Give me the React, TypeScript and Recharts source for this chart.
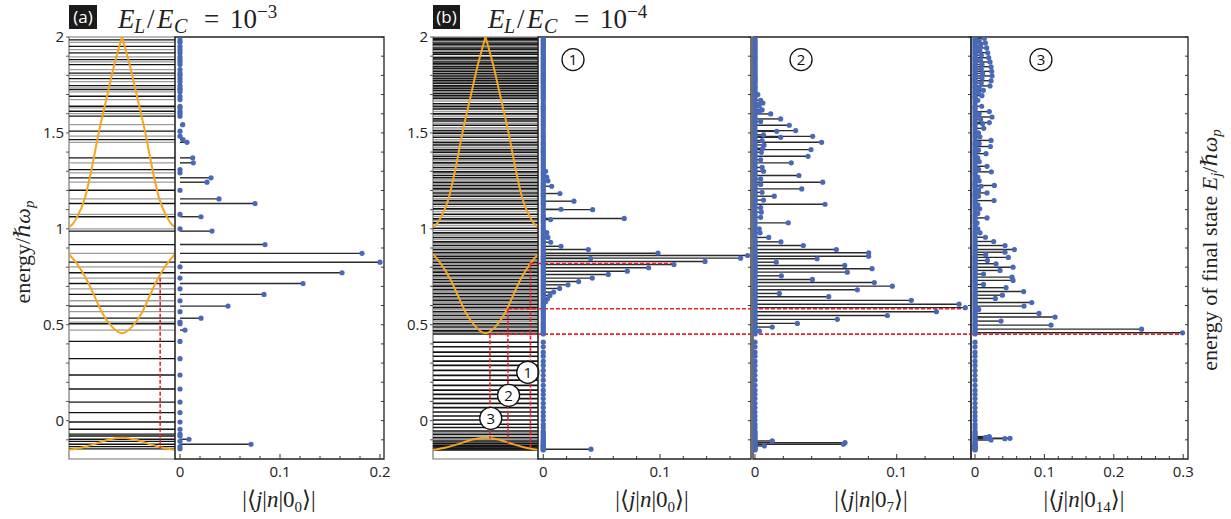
import React from 'react';
import {
  ComposedChart,
  Scatter,
  Line,
  XAxis,
  YAxis,
  ReferenceLine,
  ReferenceArea,
  ReferenceDot,
} from 'recharts';

// ---------------- data ----------------
const energyTicks = [-0.1, 0, 0.1, 0.2, 0.3, 0.4, 0.5, 0.6, 0.7, 0.8, 0.9, 1, 1.1, 1.2, 1.3, 1.4, 1.5, 1.6, 1.7, 1.8, 1.9, 2];
const energyLabels = ['0', '0.5', '1', '1.5', '2'];

// panel (a): energy levels
const levelsABlack = [1.985, 1.951, 1.917, 1.882, 1.856, 1.812, 1.783, 1.747, 1.726, 1.691, 1.639, 1.613, 1.587, 1.509, 1.465, 1.370, 1.309, 1.266, 1.201, 1.132, 1.063, 0.988, 0.918, 0.826, 0.771, 0.715, 0.658, 0.597, 0.534, 0.505,
  0.413, 0.323, 0.238, 0.165, 0.097, 0.042, -0.007, -0.045, -0.070, -0.080, -0.097, -0.108, -0.123, -0.135, -0.147];
const levelsAGray = [1.972, 1.934, 1.896, 1.870, 1.830, 1.800, 1.767, 1.734, 1.714, 1.674, 1.630, 1.601, 1.543, 1.483, 1.451, 1.344, 1.292, 1.243, 1.156, 1.075, 1.000, 0.872, 0.802, 0.743, 0.687, 0.625, 0.568, 0.514, 0.472];
const stemAEnergy = [1.543, 1.465, 1.451, 1.370, 1.344, 1.266, 1.243, 1.156, 1.132, 1.063, 0.988, 0.918, 0.872, 0.826, 0.771, 0.715, 0.658, 0.597, 0.534, 0.472, -0.097, -0.123];
const stemAAmp = [0.0027, 0.003, 0.007, 0.0127, 0.0133, 0.031, 0.027, 0.039, 0.075, 0.021, 0.032, 0.085, 0.182, 0.200, 0.162, 0.123, 0.084, 0.048, 0.021, 0.005, 0.009, 0.071];
const ampTicksA = [0, 0.02, 0.04, 0.06, 0.08, 0.1, 0.12, 0.14, 0.16, 0.18, 0.2];
const ampLabelsA = ['0', '0.1', '0.2'];

// panel (b): energy levels
const levelsBBlack = [0.452, 0.468, 0.488, 0.505, 0.527, 0.548, 0.568, 0.589, 0.607, 0.627, 0.646, 0.663, 0.682, 0.701, 0.720, 0.736, 0.755, 0.774, 0.792, 0.809, 0.826, 0.844, 0.857, 0.875, 0.892, 0.913, 0.932, 0.955, 0.979, 1.003, 1.031, 1.052, 1.076, 1.104, 1.128, 1.147, 1.170, 1.187, 1.208, 1.226, 1.243, 1.266, 1.278, 1.297, 1.320, 1.344, 1.366, 1.378, 1.399, 1.413, 1.437, 1.451, 1.477, 1.499, 1.512, 1.540, 1.562, 1.573, 1.599, 1.625, 1.639, 1.652, 1.680, 1.694, 1.705, 1.722, 1.733, 1.745, 1.758, 1.772, 1.784, 1.797, 1.810, 1.821, 1.836, 1.845, 1.860, 1.870, 1.885, 1.892, 1.910, 1.918, 1.935, 1.943, 1.960, 1.969, 1.985, 1.993,
  0.409, 0.385, 0.357, 0.336, 0.310, 0.288, 0.262, 0.236, 0.211, 0.184, 0.159, 0.137, 0.115, 0.090, 0.068, 0.045, 0.024, 0.003, -0.019, -0.036, -0.054, -0.071, -0.089, -0.106, -0.118, -0.129, -0.137, -0.146, -0.153];
const levelsBGray = [0.460, 0.478, 0.497, 0.516, 0.537, 0.558, 0.578, 0.598, 0.617, 0.636, 0.655, 0.672, 0.691, 0.710, 0.728, 0.746, 0.764, 0.783, 0.800, 0.818, 0.835, 0.851, 0.866, 0.884, 0.902, 0.922, 0.944, 0.967, 0.991, 1.017, 1.042, 1.064, 1.090, 1.116, 1.138, 1.158, 1.178, 1.197, 1.217, 1.235, 1.255, 1.288, 1.309, 1.332, 1.355, 1.389, 1.406, 1.425, 1.444, 1.464, 1.488, 1.526, 1.550, 1.586, 1.612, 1.632, 1.666, 1.687, 1.713, 1.740, 1.765, 1.778, 1.791, 1.804, 1.828, 1.853, 1.877, 1.898, 1.926, 1.952, 1.977,
  -0.062, -0.080, -0.098, -0.112, -0.124, -0.133, -0.141, -0.150];

// stems |<j|n|0_0>| (b1)
const stemB1Energy = [1.300, 1.270, 1.250, 1.222, 1.184, 1.144, 1.102, 1.100, 1.054, 1.048, 0.980, 0.955, 0.930, 0.909, 0.892, 0.873, 0.861, 0.847, 0.845, 0.830, 0.814, 0.797, 0.779, 0.762, 0.743, 0.725, 0.708, 0.689, 0.670, 0.653, 0.635, 0.620, -0.149];
const stemB1Amp = [0.002, 0.003, 0.004, 0.0072, 0.0143, 0.0263, 0.0152, 0.0423, 0.0694, 0.0063, 0.003, 0.004, 0.0063, 0.0152, 0.0386, 0.0983, 0.1751, 0.1691, 0.0406, 0.1386, 0.112, 0.0903, 0.072, 0.0557, 0.042, 0.0303, 0.0212, 0.014, 0.0089, 0.0057, 0.0037, 0.002, 0.0409];
const ampTicksB1 = [0, 0.02, 0.04, 0.06, 0.08, 0.1, 0.12, 0.14, 0.16];

// stems |<j|n|0_7>| (b2)
const stemB2Energy = [1.700, 1.670, 1.656, 1.640, 1.620, 1.610, 1.599, 1.573, 1.560, 1.540, 1.512, 1.508, 1.490, 1.482, 1.477, 1.460, 1.451, 1.437, 1.420, 1.413, 1.399, 1.378, 1.360, 1.344, 1.320, 1.300, 1.278, 1.260, 1.243, 1.231, 1.208, 1.190, 1.170, 1.150, 1.128, 1.110, 1.087, 1.060, 1.031, 1.000, 0.979, 0.955, 0.932, 0.913, 0.892, 0.875, 0.857, 0.844, 0.826, 0.809, 0.792, 0.774, 0.755, 0.736, 0.720, 0.701, 0.682, 0.663, 0.646, 0.627, 0.607, 0.589, 0.568, 0.548, 0.528, 0.507, 0.488, 0.467, -0.106, -0.115, -0.123, -0.132];
const stemB2Amp = [0.002, 0.004, 0.0056, 0.003, 0.005, 0.003, 0.0111, 0.0181, 0.004, 0.0242, 0.0287, 0.0153, 0.006, 0.0407, 0.0181, 0.005, 0.047, 0.0064, 0.0055, 0.0395, 0.0045, 0.0374, 0.004, 0.0256, 0.005, 0.006, 0.031, 0.004, 0.0478, 0.004, 0.033, 0.005, 0.0136, 0.006, 0.0494, 0.004, 0.0045, 0.004, 0.0235, 0.003, 0.0036, 0.0097, 0.0183, 0.0341, 0.0574, 0.0802, 0.0802, 0.0438, 0.015, 0.0633, 0.0826, 0.0651, 0.0186, 0.0405, 0.0842, 0.0969, 0.0722, 0.0172, 0.052, 0.1103, 0.144, 0.1484, 0.128, 0.0934, 0.0581, 0.0299, 0.0122, 0.0031, 0.0122, 0.0635, 0.0624, 0.0066];
const ampTicksB2 = [0, 0.02, 0.04, 0.06, 0.08, 0.1, 0.12, 0.14];

// stems |<j|n|0_14>| (b3)
const stemB3Energy = [1.993, 1.980, 1.969, 1.955, 1.943, 1.930, 1.918, 1.905, 1.892, 1.880, 1.870, 1.857, 1.845, 1.833, 1.821, 1.810, 1.797, 1.785, 1.772, 1.760, 1.745, 1.735, 1.722, 1.710, 1.694, 1.670, 1.639, 1.611, 1.600, 1.583, 1.570, 1.554, 1.548, 1.524, 1.500, 1.480, 1.461, 1.445, 1.429, 1.410, 1.392, 1.370, 1.350, 1.326, 1.310, 1.297, 1.270, 1.250, 1.226, 1.222, 1.200, 1.187, 1.170, 1.147, 1.125, 1.104, 1.080, 1.057, 1.030, 1.000, 0.979, 0.956, 0.934, 0.913, 0.892, 0.878, 0.865, 0.851, 0.835, 0.818, 0.800, 0.783, 0.764, 0.748, 0.731, 0.710, 0.693, 0.673, 0.654, 0.637, 0.616, 0.597, 0.580, 0.559, 0.540, 0.519, 0.498, 0.477, 0.458, -0.083, -0.088, -0.090, -0.092, -0.094, -0.101];
const stemB3Amp = [0.0134, 0.006, 0.0149, 0.008, 0.0168, 0.007, 0.0183, 0.009, 0.0197, 0.008, 0.0216, 0.010, 0.0231, 0.009, 0.024, 0.011, 0.0245, 0.010, 0.0231, 0.009, 0.0216, 0.006, 0.012, 0.005, 0.010, 0.004, 0.0096, 0.0206, 0.006, 0.0245, 0.008, 0.0206, 0.0109, 0.0125, 0.005, 0.007, 0.0231, 0.006, 0.0221, 0.005, 0.0158, 0.004, 0.006, 0.0173, 0.005, 0.0235, 0.004, 0.006, 0.0278, 0.0086, 0.005, 0.0173, 0.005, 0.0274, 0.004, 0.0067, 0.004, 0.0173, 0.003, 0.004, 0.0072, 0.0149, 0.0269, 0.0432, 0.0567, 0.0432, 0.0154, 0.048, 0.0178, 0.0303, 0.0548, 0.036, 0.0122, 0.0533, 0.0548, 0.0122, 0.0447, 0.0701, 0.0394, 0.0293, 0.0817, 0.0706, 0.0053, 0.0922, 0.1153, 0.0375, 0.1095, 0.240, 0.299, 0.0206, 0.015, 0.018, 0.0504, 0.043, 0.023];
const ampTicksB3 = [0, 0.02, 0.04, 0.06, 0.08, 0.1, 0.12, 0.14, 0.16, 0.18, 0.2, 0.22, 0.24, 0.26, 0.28, 0.3];
const ampLabelsB = ['0', '0.1', '0.2', '0.3'];

// energy bands vs quasi-momentum k
const topBandLeftK = [-1, -0.93, -0.84, -0.70, -0.56, -0.44, -0.30, -0.15, 0];
const topBandLeftE = [1.01, 1.025, 1.065, 1.16, 1.33, 1.5, 1.67, 1.85, 2.0];
const topBandRightK = [0, 0.15, 0.30, 0.44, 0.56, 0.70, 0.84, 0.93, 1];
const topBandRightE = [2.0, 1.85, 1.67, 1.5, 1.33, 1.16, 1.065, 1.025, 1.01];
const midBandK = [-1, -0.856, -0.675, -0.505, -0.38, -0.19, 0, 0.19, 0.38, 0.505, 0.675, 0.856, 1];
const midBandE = [0.868, 0.82, 0.74, 0.64, 0.565, 0.49, 0.455, 0.49, 0.565, 0.64, 0.74, 0.82, 0.868];
const lowBandK = [-1, -0.75, -0.49, -0.25, 0, 0.25, 0.49, 0.75, 1];
const lowBandE = [-0.152, -0.14, -0.12, -0.098, -0.089, -0.098, -0.12, -0.14, -0.152];

// transitions (red dashed guides)
const transA = { k: 0.72, top: 0.745, bottom: -0.146 };
const transBEnergy = [0.819, 0.583, 0.451];
const transBK = [0.856, 0.426, 0.085];
const transBBottom = [-0.141, -0.118, -0.094];
const transBEndPanel = [1, 2, 3];
const transBEndAmp = [0.111, 0.148, 0.299];
const markerBK = [0.805, 0.44, 0.10];
const markerBE = [0.252, 0.132, 0.012];
const markerLabels = ['1', '2', '3'];
const topMarkerAmp = [0.0255, 0.0325, 0.095];
const topMarkerE = 1.882;

// ---------------- styles ----------------
const BLUE = '#4868b8';
const STEM = '#2a2a2a';
const ORANGE = '#f5a51e';
const RED = '#e8232b';
const GRAY = '#9c9c9c';
const BLACK = '#141414';
const SANS = "'Open Sans', 'DejaVu Sans', sans-serif";
const SERIF = "'Liberation Serif', 'DejaVu Serif', serif";
const TOP = 37;
const BOTTOM = 459;
const Y_DOMAIN: [number, number] = [-0.2, 2];

const fmt = (v: number) => String(Math.round(v * 100) / 100);

const makeLeftTick = (labels: string[]) => (props: any) => {
  const { x, y, payload } = props;
  const s = fmt(payload.value);
  return (
    <g>
      <line x1={x} x2={x - 3} y1={y} y2={y} stroke="#555" strokeWidth={1} />
      {labels.includes(s) && (
        <text x={x - 5} y={y} dy="0.36em" textAnchor="end" fontFamily={SANS} fontSize={15} fill="#222">
          {s}
        </text>
      )}
    </g>
  );
};

const rightTick = (props: any) => {
  const { x, y } = props;
  return <line x1={x} x2={x - 3} y1={y} y2={y} stroke="#333" strokeWidth={1} />;
};

const makeBottomTick = (labels: string[]) => (props: any) => {
  const { x, y, payload } = props;
  const s = fmt(payload.value);
  const major = labels.includes(s);
  return (
    <g>
      <line x1={x} x2={x} y1={y} y2={y - (major ? 5 : 3)} stroke="#333" strokeWidth={1} />
      {major && (
        <text x={x} y={y + 13} dy="0.36em" textAnchor="middle" fontFamily={SANS} fontSize={15} fill="#222">
          {s}
        </text>
      )}
    </g>
  );
};

const dotShape = (props: any) => <circle cx={props.cx} cy={props.cy} r={2.6} fill={BLUE} />;

const circled = (label: string) => (props: any) => (
  <g>
    <circle cx={props.cx} cy={props.cy} r={11} fill="#fff" stroke="#111" strokeWidth={1.3} />
    <text x={props.cx} y={props.cy} dy="0.36em" textAnchor="middle" fontFamily={SANS} fontSize={15} fill="#111">
      {label}
    </text>
  </g>
);

const pairs = (ks: number[], es: number[]) => ks.map((k, i) => ({ k, e: es[i] }));

type BoxProps = {
  x0: number;
  x1: number;
  black: number[];
  gray: number[];
  lw: number;
  children?: React.ReactNode;
};

function LevelBox({ x0, x1, black, gray, lw, children }: BoxProps) {
  const padL = 50;
  const padR = 2;
  const padT = 10;
  const padB = 20;
  const W = x1 - x0 + padL + padR;
  const H = BOTTOM - TOP + padT + padB;
  return (
    <div style={{ position: 'absolute', left: x0 - padL, top: TOP - padT, width: W, height: H }}>
      <ComposedChart width={W} height={H} margin={{ top: padT, right: padR, bottom: padB, left: 0 }}>
        <XAxis type="number" dataKey="k" domain={[-1, 1]} hide allowDataOverflow />
        <YAxis
          type="number"
          dataKey="e"
          domain={Y_DOMAIN}
          ticks={energyTicks}
          interval={0}
          width={padL}
          tickSize={0}
          tickMargin={0}
          axisLine={false}
          tickLine={false}
          tick={makeLeftTick(energyLabels)}
          allowDataOverflow
        />
        {gray.map((e, i) => (
          <ReferenceLine key={'g' + i} y={e} stroke={GRAY} strokeWidth={lw} />
        ))}
        {black.map((e, i) => (
          <ReferenceLine key={'b' + i} y={e} stroke={BLACK} strokeWidth={lw} />
        ))}
        <ReferenceArea x1={-1} x2={1} y1={-0.2} y2={2} fill="none" stroke="#777" strokeWidth={1.2} />
        <Line data={pairs(topBandLeftK, topBandLeftE)} dataKey="e" type="monotone" dot={false} stroke={ORANGE} strokeWidth={2} isAnimationActive={false} />
        <Line data={pairs(topBandRightK, topBandRightE)} dataKey="e" type="monotone" dot={false} stroke={ORANGE} strokeWidth={2} isAnimationActive={false} />
        <Line data={pairs(midBandK, midBandE)} dataKey="e" type="monotone" dot={false} stroke={ORANGE} strokeWidth={2} isAnimationActive={false} />
        <Line data={pairs(lowBandK, lowBandE)} dataKey="e" type="monotone" dot={false} stroke={ORANGE} strokeWidth={2} isAnimationActive={false} />
        {children}
      </ComposedChart>
    </div>
  );
}

type StemProps = {
  x0: number;
  x1: number;
  domain: [number, number];
  zero: number[];
  stemE: number[];
  stemV: number[];
  ticks: number[];
  labels: string[];
  children?: React.ReactNode;
};

function StemPlot({ x0, x1, domain, zero, stemE, stemV, ticks, labels, children }: StemProps) {
  const padL = 2;
  const padR = 8;
  const padT = 10;
  const padB = 30;
  const W = x1 - x0 + padL + padR;
  const H = BOTTOM - TOP + padT + padB;
  const zeroPts = zero.map((e) => ({ v: 0, e }));
  const tipPts = stemE.map((e, i) => ({ v: stemV[i], e }));
  return (
    <div style={{ position: 'absolute', left: x0 - padL, top: TOP - padT, width: W, height: H }}>
      <ComposedChart width={W} height={H} margin={{ top: padT, right: padR - 5, bottom: 0, left: padL }}>
        <XAxis
          type="number"
          dataKey="v"
          domain={domain}
          ticks={ticks}
          interval={0}
          height={padB}
          tickSize={0}
          tickMargin={0}
          axisLine={false}
          tickLine={false}
          tick={makeBottomTick(labels)}
          allowDataOverflow
        />
        <YAxis
          type="number"
          dataKey="e"
          orientation="right"
          domain={Y_DOMAIN}
          ticks={energyTicks}
          interval={0}
          width={5}
          tickSize={0}
          tickMargin={0}
          axisLine={false}
          tickLine={false}
          tick={rightTick}
          allowDataOverflow
        />
        <ReferenceArea x1={domain[0]} x2={domain[1]} y1={-0.2} y2={2} fill="none" stroke="#222" strokeWidth={1.3} />
        {stemE.map((e, i) => (
          <ReferenceLine key={'s' + i} segment={[{ x: 0, y: e }, { x: stemV[i], y: e }]} stroke={STEM} strokeWidth={1.4} />
        ))}
        <Scatter data={zeroPts} shape={dotShape} isAnimationActive={false} />
        <Scatter data={tipPts} shape={dotShape} isAnimationActive={false} />
        {children}
      </ComposedChart>
    </div>
  );
}

const allA = [...levelsABlack, ...levelsAGray];
const zeroA = allA.filter((e) => !stemAEnergy.includes(e));
const allB = [...levelsBBlack, ...levelsBGray];

const Bracket = ({ x, sub }: { x: number; sub: string }) => (
  <text x={x} y={507} textAnchor="middle" fontFamily={SERIF} fontSize={23} fill="#222">
    |⟨<tspan fontStyle="italic">j</tspan>|<tspan fontStyle="italic">n</tspan>|0
    <tspan fontSize={15} dy={5}>{sub}</tspan>
    <tspan dy={-5}>⟩|</tspan>
  </text>
);

const Title = ({ x, exp }: { x: number; exp: string }) => (
  <text y={28} fontFamily={SERIF} fontSize={27} fill="#222">
    <tspan x={x} fontStyle="italic">E</tspan>
    <tspan x={x + 16} fontStyle="italic" fontSize={20} dy={5}>L</tspan>
    <tspan x={x + 29} dy={-5}>/</tspan>
    <tspan x={x + 39} fontStyle="italic">E</tspan>
    <tspan x={x + 56} fontStyle="italic" fontSize={20} dy={5}>C</tspan>
    <tspan x={x + 86} dy={-5}>=</tspan>
    <tspan x={x + 112}>10</tspan>
    <tspan x={x + 139} fontSize={19} dy={-10}>{'\u2212' + exp}</tspan>
  </text>
);

export default function App() {
  return (
    <div style={{ position: 'absolute', left: 0, top: 0, width: 1231, height: 519, background: '#fff', overflow: 'hidden' }}>
      {/* panel (a) */}
      <LevelBox x0={69} x1={175} black={levelsABlack} gray={levelsAGray} lw={1.3}>
        <ReferenceLine segment={[{ x: transA.k, y: transA.top }, { x: transA.k, y: transA.bottom }]} stroke={RED} strokeWidth={1.6} strokeDasharray="4 2" />
      </LevelBox>
      <StemPlot x0={175} x1={384} domain={[-0.005, 0.204]} zero={zeroA} stemE={stemAEnergy} stemV={stemAAmp} ticks={ampTicksA} labels={ampLabelsA} />

      {/* panel (b) */}
      <LevelBox x0={433} x1={538} black={levelsBBlack} gray={levelsBGray} lw={1.6}>
        {transBEnergy.map((e, i) => (
          <ReferenceLine key={'rv' + i} segment={[{ x: transBK[i], y: e }, { x: transBK[i], y: transBBottom[i] }]} stroke={RED} strokeWidth={1.6} strokeDasharray="4 2" />
        ))}
        {transBEnergy.map((e, i) => (
          <ReferenceLine key={'rh' + i} segment={[{ x: transBK[i], y: e }, { x: 1, y: e }]} stroke={RED} strokeWidth={1.6} strokeDasharray="4 2" />
        ))}
        {markerBK.map((k, i) => (
          <ReferenceDot key={'m' + i} x={k} y={markerBE[i]} r={11} shape={circled(markerLabels[i])} />
        ))}
      </LevelBox>
      <StemPlot x0={538} x1={751} domain={[-0.0045, 0.178]} zero={allB} stemE={stemB1Energy} stemV={stemB1Amp} ticks={ampTicksB1} labels={ampLabelsB}>
        {transBEnergy.map((e, i) => (
          <ReferenceLine key={'r1' + i} segment={[{ x: -0.0045, y: e }, { x: transBEndPanel[i] === 1 ? transBEndAmp[i] : 0.178, y: e }]} stroke={RED} strokeWidth={1.6} strokeDasharray="4 2" />
        ))}
        <ReferenceDot x={topMarkerAmp[0]} y={topMarkerE} r={11} shape={circled('1')} />
      </StemPlot>
      <StemPlot x0={753} x1={971} domain={[-0.0014, 0.1524]} zero={allB} stemE={stemB2Energy} stemV={stemB2Amp} ticks={ampTicksB2} labels={ampLabelsB}>
        {transBEnergy.map((e, i) =>
          transBEndPanel[i] >= 2 ? (
            <ReferenceLine key={'r2' + i} segment={[{ x: -0.0014, y: e }, { x: transBEndPanel[i] === 2 ? transBEndAmp[i] : 0.1524, y: e }]} stroke={RED} strokeWidth={1.6} strokeDasharray="4 2" />
          ) : null
        )}
        <ReferenceDot x={topMarkerAmp[1]} y={topMarkerE} r={11} shape={circled('2')} />
      </StemPlot>
      <StemPlot x0={971} x1={1188} domain={[-0.0058, 0.3069]} zero={allB} stemE={stemB3Energy} stemV={stemB3Amp} ticks={ampTicksB3} labels={ampLabelsB}>
        {transBEnergy.map((e, i) =>
          transBEndPanel[i] >= 3 ? (
            <ReferenceLine key={'r3' + i} segment={[{ x: -0.0058, y: e }, { x: transBEndAmp[i], y: e }]} stroke={RED} strokeWidth={1.6} strokeDasharray="4 2" />
          ) : null
        )}
        <ReferenceDot x={topMarkerAmp[2]} y={topMarkerE} r={11} shape={circled('3')} />
      </StemPlot>

      {/* text overlay */}
      <svg width={1231} height={519} style={{ position: 'absolute', left: 0, top: 0, pointerEvents: 'none' }}>
        <rect x={69} y={5} width={28} height={24} fill="#1a1a1a" />
        <text x={83} y={17} dy="0.36em" textAnchor="middle" fontFamily={SANS} fontSize={17} fill="#fff">(a)</text>
        <rect x={433} y={5} width={27} height={24} fill="#1a1a1a" />
        <text x={446.5} y={17} dy="0.36em" textAnchor="middle" fontFamily={SANS} fontSize={17} fill="#fff">(b)</text>
        <Title x={118} exp="3" />
        <Title x={488} exp="4" />
        <Bracket x={279} sub="0" />
        <Bracket x={652} sub="0" />
        <Bracket x={871} sub="7" />
        <Bracket x={1084} sub="14" />
        <text transform="translate(30,252) rotate(-90)" textAnchor="middle" fontFamily={SERIF} fontSize={22} fill="#222">
          energy/ℏ<tspan fontStyle="italic">ω</tspan>
          <tspan fontStyle="italic" fontSize={15} dy={4}>p</tspan>
        </text>
        <text transform="translate(1217,250) rotate(-90)" textAnchor="middle" fontFamily={SERIF} fontSize={22} fill="#222">
          energy of final state <tspan fontStyle="italic">E</tspan>
          <tspan fontStyle="italic" fontSize={15} dy={4}>j</tspan>
          <tspan dy={-4}>/ℏ</tspan>
          <tspan fontStyle="italic">ω</tspan>
          <tspan fontStyle="italic" fontSize={15} dy={4}>p</tspan>
        </text>
      </svg>
    </div>
  );
}
